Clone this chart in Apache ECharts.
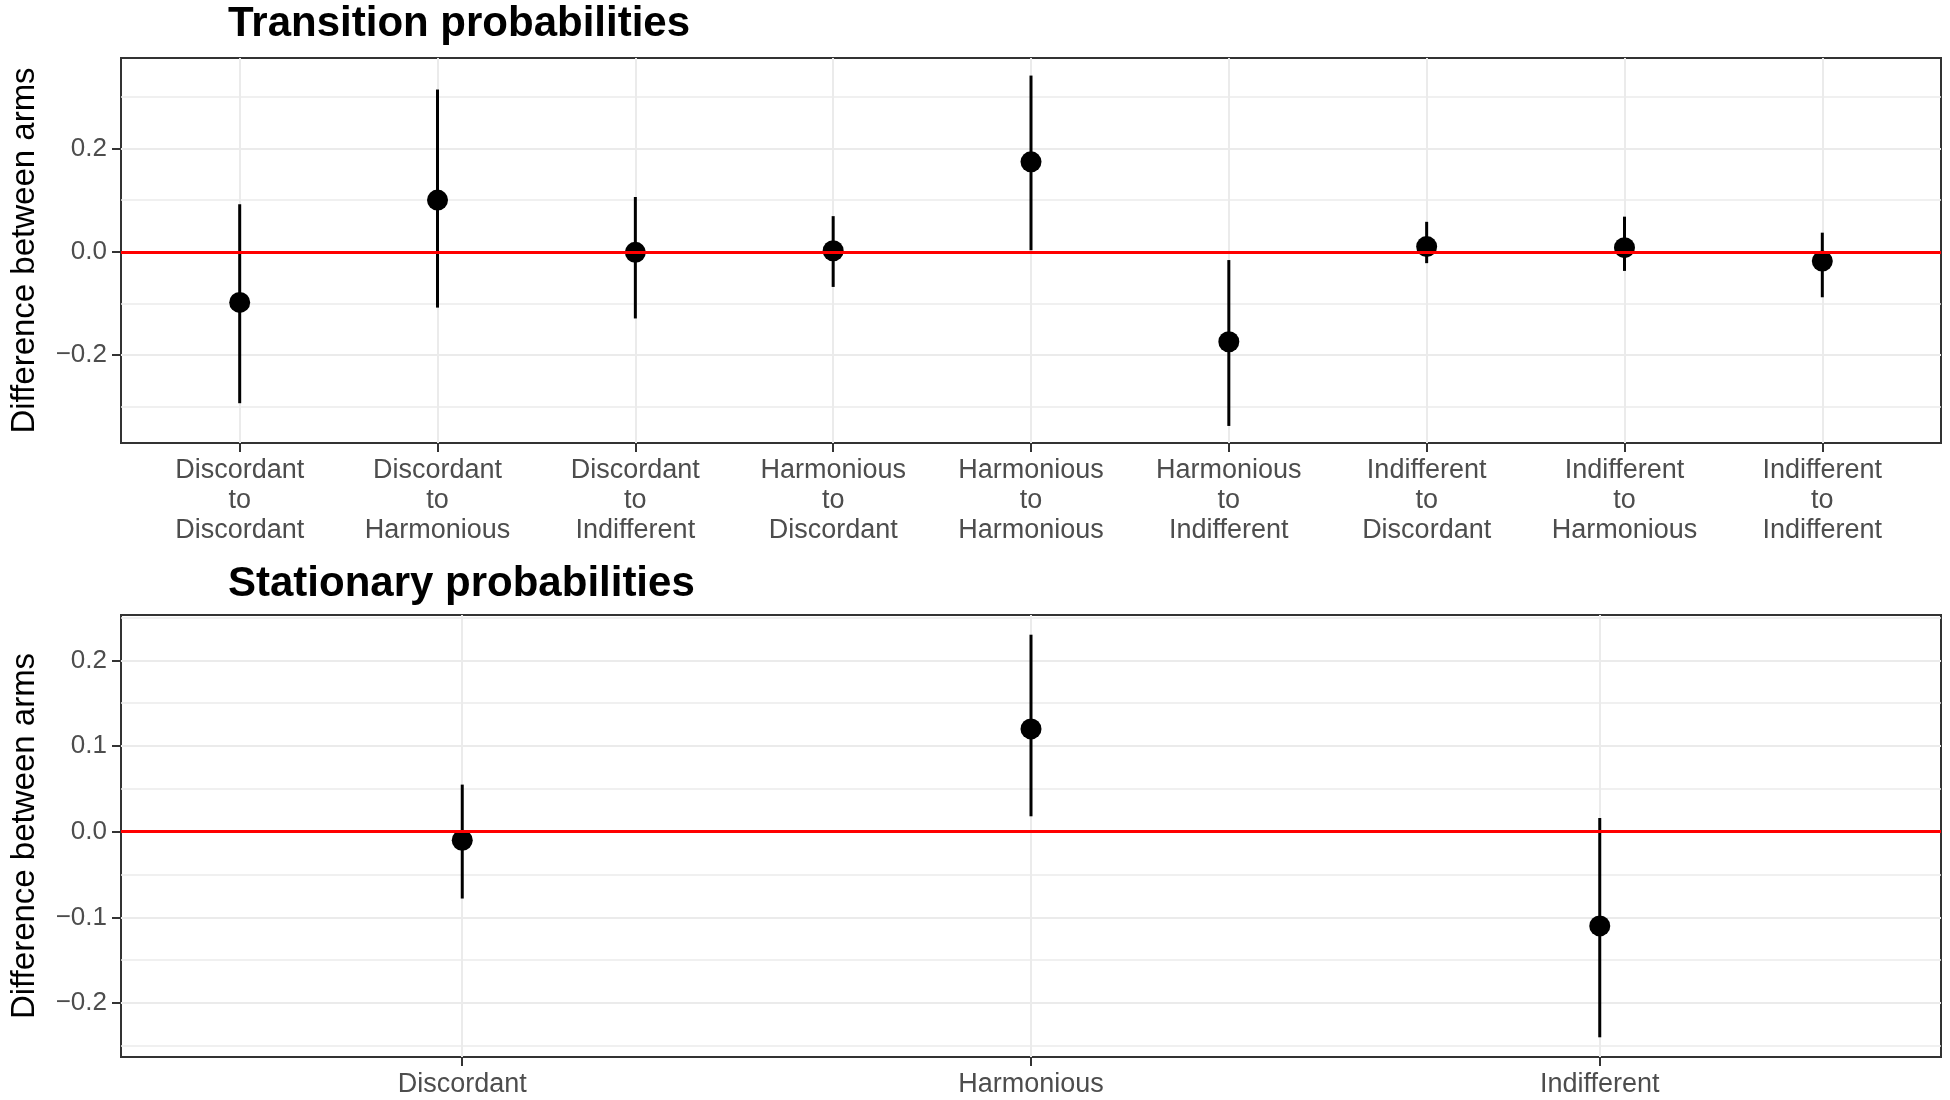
<!DOCTYPE html>
<html>
<head>
<meta charset="utf-8">
<script src="https://cdn.jsdelivr.net/npm/echarts@6/dist/echarts.min.js"></script>
<style>
html,body{margin:0;padding:0;background:#fff;}
#chart{width:1950px;height:1100px;}
</style>
</head>
<body>
<div id="chart"></div>
<script>
// ---- data ----
const topCategories = [
  'Discordant\nto\nDiscordant', 'Discordant\nto\nHarmonious', 'Discordant\nto\nIndifferent',
  'Harmonious\nto\nDiscordant', 'Harmonious\nto\nHarmonious', 'Harmonious\nto\nIndifferent',
  'Indifferent\nto\nDiscordant', 'Indifferent\nto\nHarmonious', 'Indifferent\nto\nIndifferent'
];
const topEstimate = [-0.098, 0.100, -0.001, 0.002, 0.174, -0.174, 0.010, 0.008, -0.018];
const topLower    = [-0.293, -0.108, -0.129, -0.068, 0.003, -0.337, -0.022, -0.037, -0.088];
const topUpper    = [0.092, 0.314, 0.106, 0.069, 0.341, -0.016, 0.058, 0.068, 0.037];

const botCategories = ['Discordant', 'Harmonious', 'Indifferent'];
const botEstimate = [-0.010, 0.120, -0.110];
const botLower    = [-0.078, 0.018, -0.240];
const botUpper    = [0.055, 0.230, 0.016];

const topYTicks = [-0.2, 0, 0.2];
const topYMinor = [-0.3, -0.1, 0.1, 0.3];
const botYTicks = [-0.2, -0.1, 0, 0.1, 0.2];
const botYMinor = [-0.25, -0.15, -0.05, 0.05, 0.15, 0.25];

const titles = ['Transition probabilities', 'Stationary probabilities'];
const yTitle = 'Difference between arms';

// ---- build ----
const FONT = '"Liberation Sans", Arial, Helvetica, sans-serif';
const GRID_COL = '#ebebeb';
const fmtY = v => (v < 0 ? '\u2212' : '') + Math.abs(v).toFixed(1);

function positions(n){ const a=[]; for(let i=1;i<=n;i++) a.push(i); return a; }

function xAxisFor(gridIndex, cats){
  const pos = positions(cats.length);
  return {
    type: 'value', gridIndex, min: 0.4, max: cats.length + 0.6,
    axisLine: {show: false, onZero: false},
    axisTick: {show: true, customValues: pos, length: 9, lineStyle: {color: '#333333', width: 2}},
    axisLabel: {customValues: pos, margin: 13, fontSize: 27, lineHeight: 30, color: '#4d4d4d', fontFamily: FONT,
                formatter: v => cats[Math.round(v) - 1]},
    splitLine: {show: true, lineStyle: {color: GRID_COL, width: 2}}
  };
}
function yAxesFor(gridIndex, min, max, majors, minors){
  return [{
    type: 'value', gridIndex, min, max, position: 'left',
    name: yTitle, nameLocation: 'middle', nameRotate: 90, nameGap: 80,
    nameTextStyle: {fontSize: 33, color: '#000', fontFamily: FONT},
    axisLine: {show: false, onZero: false},
    axisTick: {show: true, customValues: majors, length: 9, lineStyle: {color: '#333333', width: 2}},
    axisLabel: {customValues: majors, margin: 14, fontSize: 26, color: '#4d4d4d', fontFamily: FONT, formatter: fmtY},
    splitLine: {show: true, lineStyle: {color: GRID_COL, width: 2}}
  },{
    type: 'value', gridIndex, min, max, position: 'left',
    axisLine: {show: false, onZero: false},
    axisTick: {show: false, customValues: minors},
    axisLabel: {show: false},
    splitLine: {show: true, lineStyle: {color: GRID_COL, width: 1.6}}
  }];
}

function seriesFor(xi, yi, est, lo, hi){
  const pts = est.map((v, i) => [i + 1, v]);
  const bars = lo.map((v, i) => [i + 1, v, hi[i]]);
  return [{
    type: 'custom', xAxisIndex: xi, yAxisIndex: yi, z: 3,
    encode: {x: 0, y: [1, 2]},
    data: bars,
    silent: true,
    renderItem: (params, api) => {
      const a = api.coord([api.value(0), api.value(1)]);
      const b = api.coord([api.value(0), api.value(2)]);
      return {type: 'line', shape: {x1: a[0], y1: a[1], x2: b[0], y2: b[1]},
              style: {stroke: '#000', lineWidth: 3}};
    }
  },{
    type: 'scatter', xAxisIndex: xi, yAxisIndex: yi, z: 4,
    data: pts, symbol: 'circle', symbolSize: 21,
    itemStyle: {color: '#000', opacity: 1}, silent: true,
    markLine: {silent: true, symbol: ['none', 'none'], z: 6, label: {show: false},
               lineStyle: {color: '#ff0000', width: 3, type: 'solid', opacity: 1},
               data: [{yAxis: 0}]}
  }];
}

const option = {
  backgroundColor: '#fff',
  animation: false,
  title: [
    {text: titles[0], left: 228, top: 3, padding: 0,
     textStyle: {fontSize: 42, fontWeight: 'bold', color: '#000', fontFamily: FONT}},
    {text: titles[1], left: 228, top: 563, padding: 0,
     textStyle: {fontSize: 42, fontWeight: 'bold', color: '#000', fontFamily: FONT}}
  ],
  grid: [
    {left: 117, right: 9, top: 58, height: 385, show: true, borderColor: '#333333', borderWidth: 2, backgroundColor: '#fff', containLabel: false},
    {left: 117, right: 9, top: 615, height: 443, show: true, borderColor: '#333333', borderWidth: 2, backgroundColor: '#fff', containLabel: false}
  ],
  xAxis: [xAxisFor(0, topCategories), xAxisFor(1, botCategories)],
  yAxis: [
    ...yAxesFor(0, -0.370, 0.375, topYTicks, topYMinor),
    ...yAxesFor(1, -0.263, 0.253, botYTicks, botYMinor)
  ],
  series: [
    ...seriesFor(0, 0, topEstimate, topLower, topUpper),
    ...seriesFor(1, 2, botEstimate, botLower, botUpper)
  ]
};

const chart = echarts.init(document.getElementById('chart'), null, {renderer: 'canvas'});
chart.setOption(option);
</script>
</body>
</html>
